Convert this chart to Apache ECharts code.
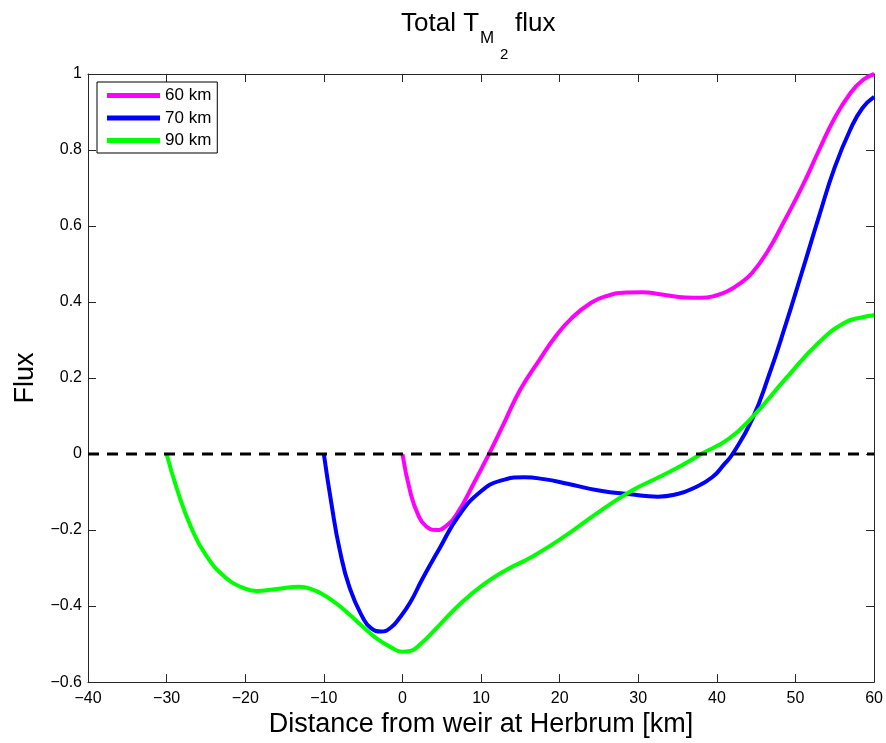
<!DOCTYPE html>
<html>
<head>
<meta charset="utf-8">
<script src="https://cdn.jsdelivr.net/npm/echarts@6/dist/echarts.min.js"></script>
<style>
  html, body { margin: 0; padding: 0; background: #fff; }
  #chart { width: 886px; height: 743px; }
</style>
</head>
<body>
<div id="chart"></div>
<script>
// Along-channel distance (km) and total M2 flux for three estuary lengths
const series60 = [[0,0],[1,-0.1],[2,-0.16],[3,-0.19],[4.3,-0.2],[5.5,-0.19],[7,-0.155],[9,-0.08],[11,0],[13,0.085],[15,0.17],[17.5,0.25],[19.5,0.31],[21.5,0.357],[24,0.398],[26,0.416],[28.5,0.425],[30.5,0.426],[33,0.42],[36,0.412],[38,0.411],[40,0.418],[41.5,0.43],[43,0.45],[44.5,0.477],[46.5,0.535],[48.5,0.61],[51,0.71],[53,0.8],[55,0.885],[57,0.95],[58.5,0.983],[60,1.0]];
const series70 = [[-10,0],[-9,-0.135],[-8,-0.25],[-6.7,-0.353],[-5,-0.432],[-4,-0.458],[-2.7,-0.467],[-1.5,-0.457],[-0.4,-0.432],[1,-0.39],[2.5,-0.33],[4.7,-0.249],[7.2,-0.161],[10,-0.098],[12.5,-0.07],[15.5,-0.061],[18,-0.066],[21,-0.078],[25,-0.096],[29,-0.106],[32.5,-0.112],[35,-0.105],[37,-0.09],[39.4,-0.061],[41,-0.025],[42,0],[44.5,0.092],[46.6,0.206],[48.7,0.337],[50.8,0.477],[53,0.626],[55,0.755],[57,0.855],[58.5,0.91],[60,0.94]];
const series90 = [[-30,0],[-28.7,-0.091],[-27,-0.187],[-25,-0.266],[-22.4,-0.327],[-20.5,-0.35],[-18.6,-0.36],[-16,-0.355],[-13.1,-0.349],[-11.5,-0.356],[-10,-0.371],[-8.3,-0.395],[-6.7,-0.423],[-5,-0.455],[-3.3,-0.485],[-1.5,-0.508],[0,-0.52],[1,-0.518],[2.2,-0.502],[4.7,-0.45],[7.2,-0.397],[10.2,-0.345],[13.2,-0.305],[16.5,-0.27],[20.8,-0.214],[25,-0.152],[29.2,-0.096],[32.6,-0.061],[35.5,-0.03],[38,0],[41.5,0.04],[44.5,0.097],[48.7,0.197],[53,0.294],[56.3,0.346],[58.5,0.36],[60,0.365]];
const zeroLine = [[-40,0],[60,0]];
const seriesNames = ['60 km', '70 km', '90 km'];

const FONT = '"Liberation Sans", Arial, Helvetica, sans-serif';
const minusFmt = v => {
  const r = Math.round(v * 10) / 10;
  return String(r).replace('-', '\u2212');
};

const axisLine = { show: true, onZero: false, lineStyle: { color: '#262626', width: 1 } };
const tickIn = { show: true, inside: true, length: 8, lineStyle: { color: '#262626', width: 1 } };

const curve = (name, data, color) => ({
  name, type: 'line', data, smooth: 0.5, showSymbol: false,
  lineStyle: { color, width: 4 }, itemStyle: { color }
});

const chart = echarts.init(document.getElementById('chart'), null, { renderer: 'canvas' });
chart.setOption({
  animation: false,
  backgroundColor: '#fff',
  grid: { left: 88, right: 10, top: 74, bottom: 59, containLabel: false },
  legend: {
    data: seriesNames,
    orient: 'vertical',
    left: 97, top: 82,
    padding: [5, 6, 4, 10],
    itemGap: 5.5,
    itemWidth: 53,
    itemHeight: 5,
    icon: 'rect',
    borderColor: '#000', borderWidth: 1,
    backgroundColor: '#fff',
    textStyle: { fontFamily: FONT, fontSize: 17, color: '#000' }
  },
  xAxis: [{
    type: 'value', min: -40, max: 60, interval: 10, position: 'bottom',
    axisLine, axisTick: tickIn, splitLine: { show: false },
    axisLabel: { formatter: minusFmt, margin: 8, fontFamily: FONT, fontSize: 16, color: '#000' },
    name: 'Distance from weir at Herbrum [km]', nameLocation: 'middle', nameGap: 28,
    nameTextStyle: { fontFamily: FONT, fontSize: 27, color: '#000' }
  }, {
    type: 'value', min: -40, max: 60, interval: 10, position: 'top',
    axisLine, axisTick: tickIn, splitLine: { show: false }, axisLabel: { show: false }
  }],
  yAxis: [{
    type: 'value', min: -0.6, max: 1, interval: 0.2, position: 'left',
    axisLine, axisTick: tickIn, splitLine: { show: false },
    axisLabel: { formatter: minusFmt, margin: 6, fontFamily: FONT, fontSize: 16, color: '#000' },
    name: 'Flux', nameLocation: 'middle', nameGap: 45,
    nameTextStyle: { fontFamily: FONT, fontSize: 27, color: '#000' }
  }, {
    type: 'value', min: -0.6, max: 1, interval: 0.2, position: 'right',
    axisLine, axisTick: tickIn, splitLine: { show: false }, axisLabel: { show: false }
  }],
  series: [
    curve(seriesNames[0], series60, '#ff00ff'),
    curve(seriesNames[1], series70, '#0000ff'),
    curve(seriesNames[2], series90, '#00ff00'),
    { name: 'zero', type: 'line', data: zeroLine, showSymbol: false, silent: true,
      lineStyle: { color: '#000', width: 3, type: [11, 8] } }
  ],
  graphic: [
    { type: 'text', left: 401, top: 11, silent: true,
      style: { text: 'Total T', fontFamily: FONT, fontSize: 26, fill: '#000' } },
    { type: 'text', left: 480, top: 30, silent: true,
      style: { text: 'M', fontFamily: FONT, fontSize: 17, fill: '#000' } },
    { type: 'text', left: 500, top: 47, silent: true,
      style: { text: '2', fontFamily: FONT, fontSize: 15, fill: '#000' } },
    { type: 'text', left: 515, top: 11, silent: true,
      style: { text: 'flux', fontFamily: FONT, fontSize: 26, fill: '#000' } }
  ]
});
</script>
</body>
</html>
